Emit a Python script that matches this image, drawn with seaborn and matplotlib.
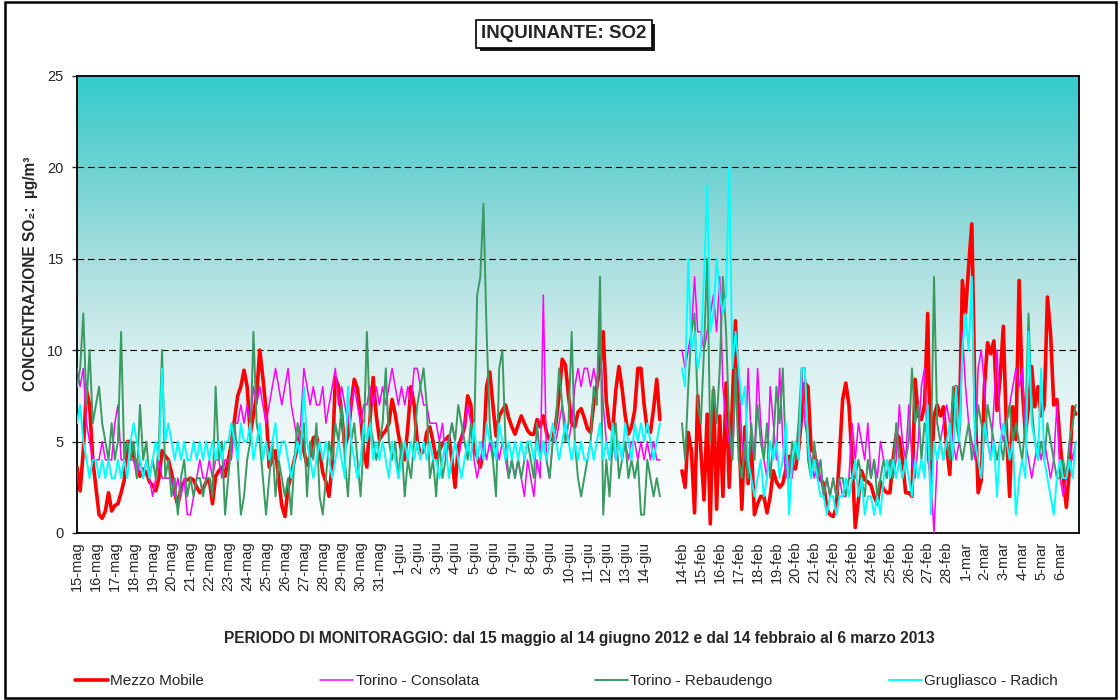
import numpy as np
import pandas as pd
import matplotlib
matplotlib.use("Agg")
import matplotlib.pyplot as plt
import matplotlib.patheffects as pe
from matplotlib.colors import LinearSegmentedColormap
from matplotlib.lines import Line2D
from matplotlib.patches import Rectangle
import seaborn as sns

# ==========================================
# DATA (one value every 4 hours)
# ==========================================
SAMPLES_PER_DAY = 6
START_P1 = 0      # 15 maggio 2012
START_P2 = 32     # 14 febbraio 2013 (one empty day between the periods)
N_DAYS = 53

stations = ["Mezzo Mobile", "Torino - Consolata", "Torino - Rebaudengo", "Grugliasco - Radich"]

# --- 15 maggio -> 14 giugno 2012 ---
mezzo_p1 = [
    3.6, 2.3, 4.5, 7.8, 7.0, 4.0,
    2.5, 1.0, 0.8, 1.2, 2.2, 1.2,
    1.5, 1.6, 2.2, 2.9, 5.0, 5.0,
    4.2, 3.6, 3.1, 3.5, 3.3, 2.8,
    2.6, 2.3, 3.0, 4.5, 4.2, 4.0,
    3.3, 2.2, 1.5, 2.5, 2.8, 2.9,
    3.0, 2.9, 2.5, 2.2, 2.4, 2.8,
    2.9, 1.6, 3.1, 3.4, 3.6, 3.1,
    4.0, 4.9, 6.2, 7.5, 8.0, 8.9,
    8.0, 5.4, 6.5, 7.5, 10.0, 8.5,
    6.7, 3.6, 4.0, 4.5, 3.0, 1.5,
    0.9, 2.5, 3.2, 4.0, 4.7, 5.5,
    4.5, 3.7, 4.2, 5.2, 5.3, 4.5,
    3.3, 2.8, 2.0, 3.8, 8.5, 8.0,
    6.5, 4.7, 5.3, 7.0, 8.4, 7.9,
    6.5, 4.4, 3.6, 6.2, 8.5, 6.4,
    5.1, 5.4, 5.6, 6.0, 7.3, 6.5,
    5.4, 4.5, 4.0, 5.8, 8.0, 7.0,
    5.0, 4.3, 4.5, 5.5, 5.8, 5.0,
    4.0, 4.5, 4.9, 5.1, 5.3, 4.0,
    2.5, 4.7, 5.2, 5.8, 7.5, 7.0,
    4.5, 4.2, 3.6, 4.4, 8.0, 8.8,
    7.0, 5.3, 6.4, 6.7, 7.0, 6.3,
    5.8, 5.4, 5.9, 6.4, 6.0, 5.6,
    5.4, 5.4, 6.2, 5.8, 6.4, 5.5,
    5.1, 5.1, 6.0, 7.5, 9.5, 9.2,
    7.5, 6.0, 5.8, 6.6, 6.8, 6.3,
    5.7, 5.5, 7.1, 8.0, 9.1, 11.0,
    7.2, 5.8, 5.6, 7.8, 9.1, 7.9,
    6.4, 5.4, 5.8, 6.7, 9.0, 9.0,
    7.0, 5.6, 5.5, 6.8, 8.4, 6.2,
]
consolata_p1 = [
    9, 8, 9, 6, 5, 4,
    4, 4, 5, 4, 4, 4,
    6, 7, 4, 4, 5, 4,
    4, 3, 4, 3, 4, 3,
    2, 3, 4, 3, 3, 3,
    3, 2, 3, 2, 3, 1,
    1, 2, 3, 4, 3, 3,
    4, 3, 4, 4, 3, 4,
    4, 4, 6, 6, 7, 6,
    7, 6, 8, 7, 8, 7,
    6, 7, 8, 9, 8, 7,
    8, 9, 7, 6, 5, 6,
    9, 8, 7, 8, 7, 7,
    8, 6, 7, 8, 9, 7,
    8, 7, 6, 7, 8, 7,
    6, 7, 7, 8, 7, 8,
    7, 8, 7, 8, 9, 8,
    7, 8, 7, 8, 7, 9,
    9, 8, 7, 7, 6, 6,
    6, 5, 6, 4, 5, 6,
    5, 4, 5, 6, 7, 6,
    4, 3, 4, 5, 4, 5,
    4, 5, 4, 5, 4, 3,
    4, 3, 4, 3, 2, 4,
    3, 2, 4, 3, 13, 4,
    3, 5, 5, 6, 7, 6,
    5, 6, 8, 9, 8, 9,
    9, 8, 9, 8, 11, 7,
    5, 4, 5, 4, 5, 4,
    5, 4, 5, 5, 4, 5,
    4, 5, 4, 5, 4, 4,
]
rebaudengo_p1 = [
    8, 9, 12, 7, 10, 6,
    7, 8, 6, 5, 4, 6,
    4, 5, 11, 4, 5, 4,
    5, 3, 7, 4, 5, 3,
    4, 3, 5, 10, 3, 4,
    2, 3, 1, 3, 4, 2,
    3, 2, 3, 3, 2, 3,
    3, 2, 8, 4, 5, 1,
    3, 5, 6, 4, 1, 2,
    4, 5, 11, 6, 5, 3,
    1, 3, 5, 2, 4, 3,
    2, 3, 1, 4, 6, 5,
    6, 2, 5, 4, 6, 2,
    1, 3, 5, 4, 6, 5,
    7, 4, 2, 5, 6, 4,
    2, 5, 11, 6, 5, 4,
    5, 6, 9, 5, 4, 5,
    3, 5, 2, 4, 3, 5,
    7, 8, 9, 7, 3, 4,
    2, 5, 3, 4, 5, 6,
    5, 7, 6, 5, 4, 6,
    5, 13, 14, 18, 11, 6,
    4, 2, 9, 10, 5, 3,
    4, 3, 4, 3, 4, 5,
    4, 3, 6, 4, 5, 4,
    3, 5, 6, 9, 7, 5,
    6, 11, 5, 3, 2, 3,
    4, 5, 8, 7, 14, 1,
    4, 2, 5, 6, 3, 4,
    5, 3, 4, 3, 4, 1,
    1, 4, 3, 2, 3, 2,
]
grugliasco_p1 = [
    6, 7, 5, 4, 3, 4,
    4, 3, 4, 3, 4, 3,
    3, 4, 3, 4, 3, 5,
    6, 5, 4, 3, 4, 3,
    4, 5, 4, 9, 5, 6,
    5, 4, 5, 4, 5, 4,
    4, 5, 4, 5, 4, 5,
    4, 5, 4, 5, 4, 5,
    5, 6, 5, 4, 6, 5,
    5, 6, 4, 5, 6, 4,
    5, 4, 5, 6, 4, 5,
    5, 4, 3, 4, 5, 4,
    8, 5, 4, 3, 4, 5,
    4, 5, 4, 3, 4, 5,
    4, 3, 8, 5, 4, 3,
    4, 6, 5, 6, 4, 5,
    4, 5, 4, 3, 5, 4,
    3, 4, 5, 4, 5, 4,
    5, 4, 5, 4, 5, 4,
    4, 3, 4, 5, 3, 4,
    5, 4, 3, 4, 5, 4,
    6, 4, 5, 4, 6, 5,
    5, 4, 6, 5, 4, 5,
    4, 5, 4, 5, 4, 5,
    5, 4, 5, 4, 5, 4,
    5, 6, 5, 4, 5, 6,
    5, 4, 5, 4, 5, 4,
    4, 5, 4, 5, 6, 4,
    5, 4, 6, 4, 5, 4,
    6, 5, 4, 6, 5, 6,
    5, 6, 5, 4, 5, 6,
]

# --- 14 febbraio -> 6 marzo 2013 ---
mezzo_p2 = [
    3.4, 2.5, 5.5, 4.5, 1.1, 7.5,
    4.5, 1.8, 6.5, 0.5, 7.8, 1.3,
    6.4, 2.0, 8.2, 2.5, 7.1, 11.6,
    6.0, 1.3, 5.8, 2.7, 4.9, 1.0,
    1.6, 2.0, 2.0, 1.1, 2.0, 3.4,
    2.8, 2.5, 2.7, 3.5, 4.2, 3.6,
    3.5, 4.5, 6.4, 8.2, 8.0, 4.5,
    4.5, 3.1, 2.9, 2.7, 1.3, 1.0,
    0.9, 1.4, 4.2, 7.3, 8.2, 7.0,
    4.0, 0.3, 1.8, 3.4, 2.9, 2.8,
    2.6, 2.0, 1.6, 2.8, 2.4, 2.2,
    2.2, 4.0, 5.4, 5.2, 4.0, 2.2,
    2.2, 2.0, 8.4, 6.4, 6.2, 7.0,
    12.0, 2.5, 6.4, 7.0, 6.4, 6.9,
    4.7, 3.2, 7.0, 8.0, 5.6, 13.8,
    12.0, 14.6, 16.9, 7.3, 2.2, 2.9,
    8.0, 10.4, 9.8, 10.5, 6.7, 8.5,
    11.3, 5.5, 2.0, 6.9, 5.1, 13.8,
    8.0, 5.4, 6.9, 9.1, 6.9, 8.0,
    6.4, 7.0, 12.9, 10.9, 7.0, 7.3,
    5.0, 3.1, 1.4, 3.5, 6.9, 6.5,
]
consolata_p2 = [
    10, 9, 10, 11, 14, 11,
    11, 10, 11, 12, 13, 11,
    14, 8, 6, 5, 4, 8,
    9, 5, 4, 9, 5, 4,
    9, 6, 4, 3, 8, 6,
    4, 9, 5, 3, 4, 3,
    5, 4, 9, 6, 5, 4,
    3, 4, 3, 2, 3, 2,
    3, 2, 3, 2, 2, 3,
    6, 4, 6, 5, 4, 6,
    3, 4, 3, 5, 4, 3,
    4, 3, 4, 7, 5, 4,
    7, 4, 3, 5, 8, 9,
    4, 3, 0, 4, 5, 6,
    7, 6, 5, 4, 5, 11,
    8, 6, 5, 4, 9, 10,
    8, 5, 4, 7, 10, 6,
    5, 6, 7, 8, 9, 8,
    9, 5, 4, 3, 4, 5,
    4, 5, 4, 3, 4, 7,
    3, 2, 3, 5, 4, 5,
]
rebaudengo_p2 = [
    6, 4, 8, 11, 12, 7,
    6, 10, 15, 5, 8, 6,
    9, 14, 11, 6, 4, 9,
    4, 3, 5, 3, 6, 4,
    7, 5, 4, 6, 3, 5,
    8, 6, 9, 4, 3, 5,
    4, 6, 9, 9, 4, 3,
    5, 3, 4, 2, 3, 2,
    3, 2, 3, 3, 2, 3,
    3, 3, 4, 3, 2, 4,
    3, 4, 2, 3, 4, 3,
    4, 3, 6, 4, 3, 4,
    5, 9, 6, 7, 4, 6,
    5, 4, 14, 6, 5, 4,
    5, 4, 8, 6, 5, 4,
    5, 6, 4, 5, 7, 6,
    5, 7, 6, 5, 4, 5,
    4, 6, 7, 5, 6, 5,
    4, 6, 12, 7, 5, 4,
    5, 4, 6, 5, 4, 3,
    3, 4, 3, 5, 6, 7,
]
grugliasco_p2 = [
    9, 8, 15, 10, 11, 9,
    10, 14, 19, 11, 12, 15,
    13, 12, 13, 20, 9, 11,
    9, 7, 8, 4, 3, 2,
    3, 4, 2, 3, 5, 4,
    5, 3, 4, 6, 1, 4,
    5, 4, 9, 9, 5, 3,
    4, 3, 2, 2, 1, 2,
    2, 1, 2, 2, 3, 2,
    3, 4, 2, 3, 1, 2,
    2, 1, 2, 1, 3, 4,
    3, 4, 3, 4, 3, 4,
    3, 2, 4, 3, 4, 3,
    7, 1, 5, 4, 5, 4,
    5, 6, 4, 8, 5, 10,
    12, 10, 14, 5, 4, 3,
    6, 5, 4, 5, 2, 5,
    6, 5, 4, 5, 1, 3,
    4, 3, 11, 6, 5, 4,
    9, 4, 3, 2, 1, 3,
    4, 3, 3, 4, 3, 5,
]

p1_labels = ["15-mag", "16-mag", "17-mag", "18-mag", "19-mag", "20-mag", "21-mag",
             "22-mag", "23-mag", "24-mag", "25-mag", "26-mag", "27-mag", "28-mag",
             "29-mag", "30-mag", "31-mag", "1-giu", "2-giu", "3-giu", "4-giu",
             "5-giu", "6-giu", "7-giu", "8-giu", "9-giu", "10-giu", "11-giu",
             "12-giu", "13-giu", "14-giu"]
p2_labels = ["14-feb", "15-feb", "16-feb", "17-feb", "18-feb", "19-feb", "20-feb",
             "21-feb", "22-feb", "23-feb", "24-feb", "25-feb", "26-feb", "27-feb",
             "28-feb", "1-mar", "2-mar", "3-mar", "4-mar", "5-mar", "6-mar"]

# ==========================================
# STYLE
# ==========================================
COLORS = ["#ff0000", "#ff00ff", "#3a9a62", "#00ffff"]
WIDTHS = [2.6, 1.1, 1.4, 1.4]
FONT = ["Liberation Sans", "DejaVu Sans"]

sns.set_style("white")
plt.rcParams["font.family"] = FONT


def to_frame(values, start, station, period):
    day = start + np.arange(len(values)) / SAMPLES_PER_DAY
    return pd.DataFrame({"day": day, "value": values,
                         "station": station, "period": period})


series = {
    stations[0]: (mezzo_p1, mezzo_p2),
    stations[1]: (consolata_p1, consolata_p2),
    stations[2]: (rebaudengo_p1, rebaudengo_p2),
    stations[3]: (grugliasco_p1, grugliasco_p2),
}
frames = []
for name, (p1, p2) in series.items():
    frames.append(to_frame(p1, START_P1, name, "p1"))
    frames.append(to_frame(p2, START_P2, name, "p2"))
df = pd.concat(frames, ignore_index=True)

# ==========================================
# PLOT
# ==========================================
fig = plt.figure(figsize=(11.2, 7), dpi=100)
ax = fig.add_axes([0.06875, 0.2386, 0.8946, 0.6533])

# gradient background (white at the bottom, teal at the top)
bg_cmap = LinearSegmentedColormap.from_list(
    "bg", [(0.0, "#ffffff"), (0.2, "#f1f9f9"), (0.4, "#d5eeee"),
           (0.6, "#a7dede"), (0.8, "#6dd2d2"), (1.0, "#33cccc")])
grad = np.linspace(0, 1, 256).reshape(-1, 1)
ax.imshow(grad, extent=[0, N_DAYS, 0, 25], origin="lower", aspect="auto",
          cmap=bg_cmap, zorder=0)

for yv in (5, 10, 15, 20):
    ax.axhline(yv, color="black", lw=0.8, ls=(0, (6, 3.5)), zorder=1)

sns.lineplot(data=df, x="day", y="value", hue="station", hue_order=stations,
             size="station", size_order=stations,
             sizes=dict(zip(stations, WIDTHS)),
             palette=dict(zip(stations, COLORS)),
             units="period", estimator=None, legend=False, ax=ax, zorder=3)
for ln in ax.lines:
    ln.set_solid_joinstyle("round")

ax.set_xlim(0, N_DAYS)
ax.set_ylim(0, 25)
ax.set_yticks(range(0, 26, 5))
ax.set_xticks(list(range(START_P1, START_P1 + len(p1_labels))) +
              list(range(START_P2, START_P2 + len(p2_labels))))
ax.set_xticklabels(p1_labels + p2_labels, rotation=90)
ax.tick_params(axis="x", length=0, pad=6, labelsize=10.5)
ax.tick_params(axis="y", length=3.6, width=1, pad=6, labelsize=10.5,
               direction="out", left=True)
ax.set_xlabel("")
ax.set_ylabel("")
for sp in ax.spines.values():
    sp.set_color("black")
    sp.set_linewidth(1.3)

# texts
fig.text(31 / 1120, 1 - 274 / 700, "CONCENTRAZIONE SO\u2082:  \u00b5g/m\u00b3",
         rotation=90, ha="center", va="center", fontsize=11.2, fontweight="bold")
fig.text(579 / 1120, 1 - 638 / 700,
         "PERIODO DI MONITORAGGIO: dal 15 maggio al 14 giugno 2012 e dal 14 febbraio al 6 marzo 2013",
         ha="center", va="center", fontsize=11.2, fontweight="bold")

title = fig.text(564 / 1120, 1 - 34 / 700, "INQUINANTE: SO2", ha="center", va="center",
                 fontsize=13.5, fontweight="bold",
                 bbox=dict(boxstyle="square,pad=0.28", fc="white", ec="black", lw=1.2))
title.get_bbox_patch().set_path_effects(
    [pe.withSimplePatchShadow(offset=(2.5, -2.5), shadow_rgbFace="black", alpha=0.9)])

# legend
handles = [Line2D([], [], color=c, lw=w) for c, w in zip(COLORS, WIDTHS)]
fig.legend(handles, stations, loc="center left", bbox_to_anchor=(75 / 1120, 1 - 681 / 700),
           ncol=4, frameon=False, fontsize=11, borderpad=0, borderaxespad=0,
           handlelength=2.16, handletextpad=0.15, columnspacing=7.6)

# outer chart border
fig.patches.append(Rectangle((5 / 1120, 2 / 700), 1111 / 1120, 696 / 700,
                             transform=fig.transFigure, fill=False,
                             lw=1.8, ec="black"))

fig.savefig("out.png", dpi=100)
